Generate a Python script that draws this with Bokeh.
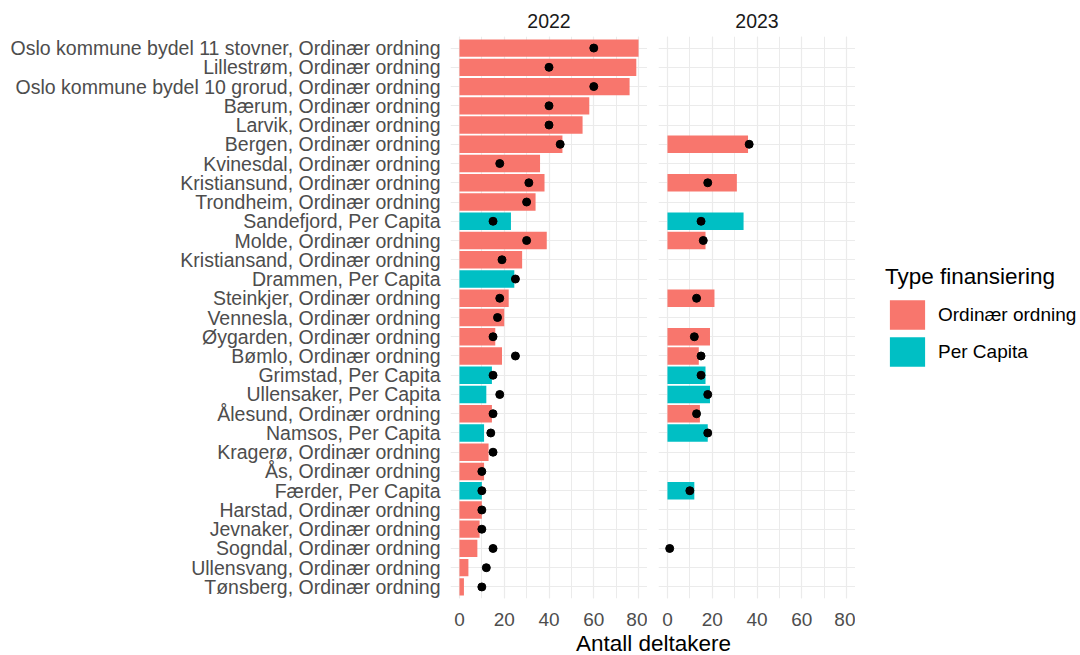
from bokeh.plotting import figure
from bokeh.models import (ColumnDataSource, FactorRange, Range1d, SingleIntervalTicker,
                          Legend, LegendItem, Div, Spacer)
from bokeh.layouts import row, column
from bokeh.embed import file_html
from bokeh.resources import INLINE

categories = [
    "Oslo kommune bydel 11 stovner, Ordinær ordning",
    "Lillestrøm, Ordinær ordning",
    "Oslo kommune bydel 10 grorud, Ordinær ordning",
    "Bærum, Ordinær ordning",
    "Larvik, Ordinær ordning",
    "Bergen, Ordinær ordning",
    "Kvinesdal, Ordinær ordning",
    "Kristiansund, Ordinær ordning",
    "Trondheim, Ordinær ordning",
    "Sandefjord, Per Capita",
    "Molde, Ordinær ordning",
    "Kristiansand, Ordinær ordning",
    "Drammen, Per Capita",
    "Steinkjer, Ordinær ordning",
    "Vennesla, Ordinær ordning",
    "Øygarden, Ordinær ordning",
    "Bømlo, Ordinær ordning",
    "Grimstad, Per Capita",
    "Ullensaker, Per Capita",
    "Ålesund, Ordinær ordning",
    "Namsos, Per Capita",
    "Kragerø, Ordinær ordning",
    "Ås, Ordinær ordning",
    "Færder, Per Capita",
    "Harstad, Ordinær ordning",
    "Jevnaker, Ordinær ordning",
    "Sogndal, Ordinær ordning",
    "Ullensvang, Ordinær ordning",
    "Tønsberg, Ordinær ordning",
]
types = [c.split(", ")[-1] for c in categories]

bars_2022 = [80, 79, 76, 58, 55, 46, 36, 38, 34, 23, 39, 28, 24.5, 22, 20, 16, 19,
             14.5, 12, 14.5, 11, 13, 11, 10, 10, 9, 8, 4, 2]
points_2022 = [60, 40, 60, 40, 40, 45, 18, 31, 30, 15, 30, 19, 25, 18, 17, 15, 25,
               15, 18, 15, 14, 15, 10, 10, 10, 10, 15, 12, 10]
bars_2023 = [None, None, None, None, None, 36, None, 31, None, 34, 17, None, None, 21,
             None, 19, 14, 17, 19, 14.5, 18, None, None, 12, None, None, None, None, None]
points_2023 = [None, None, None, None, None, 36.5, None, 18, None, 15, 16, None, None, 13,
               None, 12, 15, 15, 18, 13, 18, None, None, 10, None, None, 1, None, None]

years = ["2022", "2023"]
type_names = ["Ordinær ordning", "Per Capita"]
type_colors = ["#F8766D", "#00BFC4"]
legend_title = "Type finansiering"
x_title = "Antall deltakere"

FONT = "Liberation Sans"
ROW_H = 632
y_range = FactorRange(factors=categories[::-1], range_padding=0.1, range_padding_units="absolute")


def make_panel(year, bars, points, width, left_border, show_y):
    p = figure(width=width, height=ROW_H, y_range=y_range, x_range=Range1d(-4, 84),
               output_backend="svg", toolbar_location=None,
               y_axis_location="left" if show_y else None,
               min_border_left=left_border, min_border_right=0,
               min_border_top=36, min_border_bottom=34)
    p.title.text = year
    p.title.align = "center"
    p.title.text_font = FONT
    p.title.text_font_size = "19.5px"
    p.title.text_font_style = "normal"
    p.title.text_color = "#1A1A1A"
    p.title.standoff = 18
    p.outline_line_color = None
    p.background_fill_color = "white"
    p.border_fill_color = "white"

    ticker = SingleIntervalTicker(interval=20, num_minor_ticks=2)
    p.xaxis.ticker = ticker
    p.xgrid.ticker = ticker
    p.xgrid.grid_line_color = "#EBEBEB"
    p.xgrid.grid_line_width = 1.2
    p.xgrid.minor_grid_line_color = "#EBEBEB"
    p.xgrid.minor_grid_line_width = 1.0
    p.ygrid.grid_line_color = "#EBEBEB"
    p.ygrid.grid_line_width = 1.2

    for ax in p.axis:
        ax.axis_line_color = None
        ax.major_tick_line_color = None
        ax.minor_tick_line_color = None
        ax.major_tick_out = 0
        ax.major_tick_in = 0
        ax.major_label_text_font = FONT
        ax.major_label_text_color = "#4D4D4D"
    p.xaxis.major_label_text_font_size = "19px"
    p.xaxis.major_label_standoff = 10
    if show_y:
        p.yaxis.major_label_text_font_size = "19.5px"
        p.yaxis.major_label_standoff = 10

    for tname, tcol in zip(type_names, type_colors):
        cats = [c for c, t, b in zip(categories, types, bars) if t == tname and b is not None]
        vals = [b for t, b in zip(types, bars) if t == tname and b is not None]
        src = ColumnDataSource(dict(cat=cats, val=vals))
        p.hbar(y="cat", left=0, right="val", height=0.9, source=src,
               fill_color=tcol, line_color=None)
    pc = [c for c, v in zip(categories, points) if v is not None]
    pv = [v for v in points if v is not None]
    p.scatter(x="val", y="cat", source=ColumnDataSource(dict(cat=pc, val=pv)),
              size=8, color="black")
    return p


p1 = make_panel(years[0], bars_2022, points_2022, 647, 450, True)
p2 = make_panel(years[1], bars_2023, points_2023, 208, 11, False)

# legend panel: zero-size proxy renderers, only their legend swatches show
p3 = figure(width=224, height=ROW_H, x_range=Range1d(0, 1), y_range=Range1d(0, 1),
            output_backend="svg", toolbar_location=None,
            x_axis_location=None, y_axis_location=None,
            min_border=0, min_border_left=0, min_border_right=0,
            min_border_top=0, min_border_bottom=0)
p3.grid.visible = False
p3.outline_line_color = None
p3.background_fill_color = "white"
p3.border_fill_color = "white"
proxies = []
for tname, tcol in zip(type_names, type_colors):
    proxies.append(p3.hbar(y=[0.5], right=[0], left=0, height=0,
                           fill_color=tcol, line_color=None))

legend = Legend(
    items=[LegendItem(label=n, renderers=[r]) for n, r in zip(type_names, proxies)],
    title=legend_title,
    location=(30, 228),
    margin=0, padding=0,
    glyph_width=44, glyph_height=37, spacing=0, label_standoff=9,
    title_standoff=6,
    label_text_font=FONT, label_text_font_size="19px", label_text_color="black",
    title_text_font=FONT, title_text_font_size="22.5px", title_text_color="black",
    title_text_font_style="normal",
    background_fill_alpha=0, border_line_color=None,
)
p3.add_layout(legend, "center")

xlabel = Div(text=x_title, width=200, height=23, margin=0,
             styles={"font-family": FONT, "font-size": "22.5px", "line-height": "23px",
                     "color": "black", "white-space": "nowrap"})
layout = column(row(p1, p2, p3), row(Spacer(width=576, height=23), xlabel))

open("out.html", "w").write(file_html(layout, INLINE))
